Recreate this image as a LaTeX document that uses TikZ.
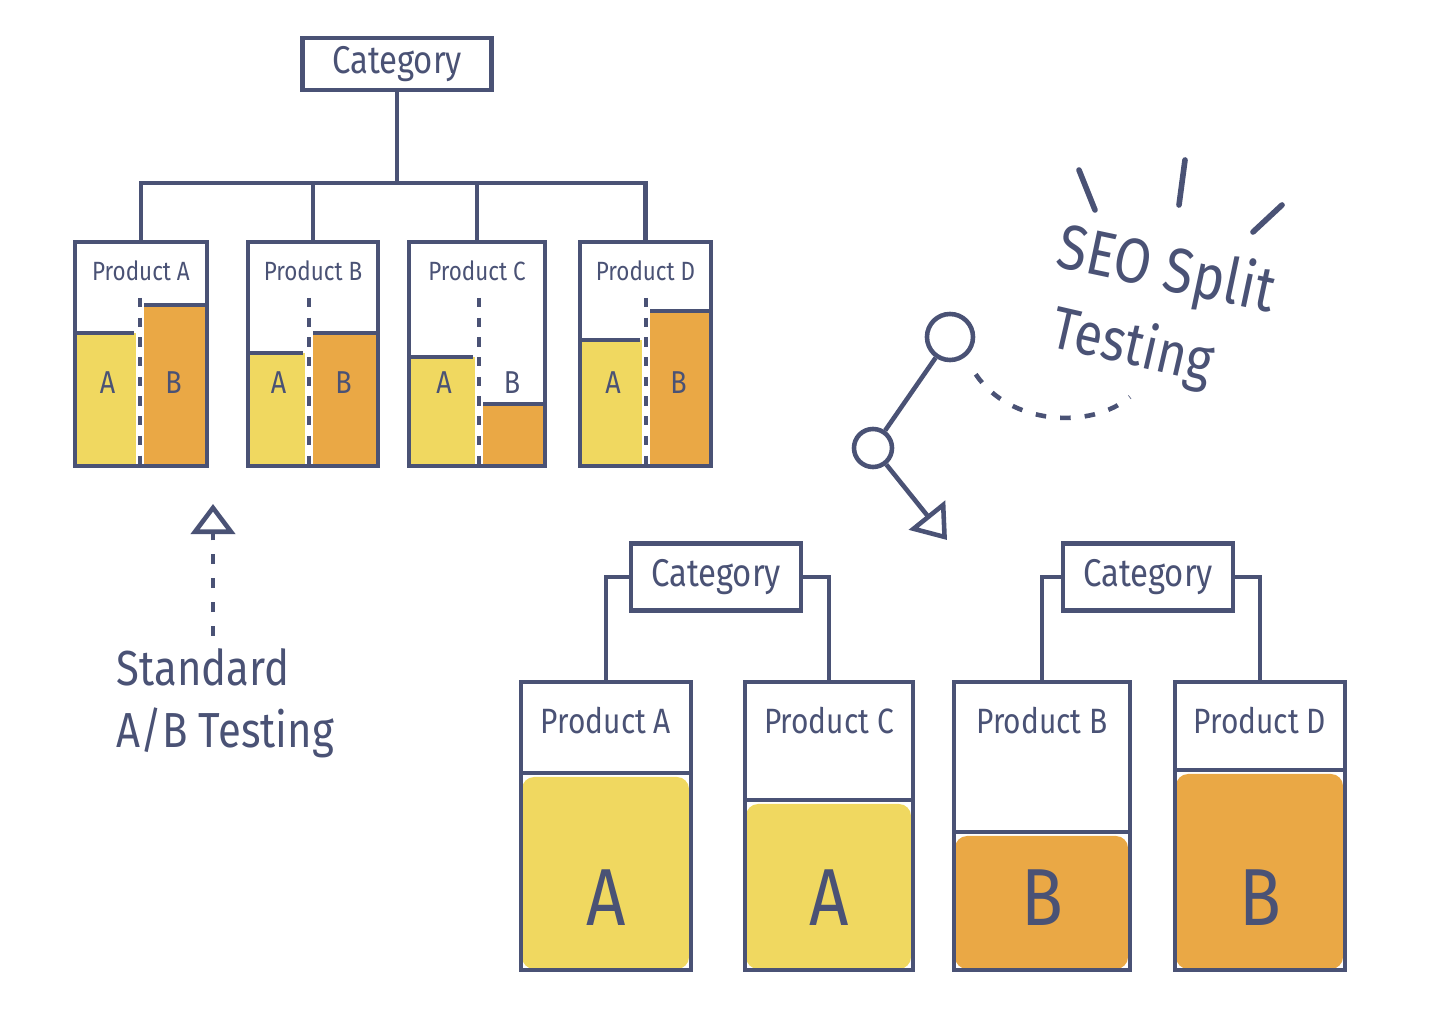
\documentclass[tikz,border=0pt]{standalone}
\usepackage{fontspec}
\setmainfont{Fira Sans}[FakeStretch=0.85]
\usetikzlibrary{arrows.meta,backgrounds,fit,positioning}
\definecolor{ink}{RGB}{74,82,117}
\definecolor{yel}{RGB}{240,216,96}
\definecolor{org}{RGB}{234,168,69}
\tikzset{
  line/.style={draw=ink, line width=1.3pt},
  catbox/.style={draw=ink, line width=1.3pt, text=ink, inner sep=0pt, font=\fontsize{11}{13}\selectfont},
  prodbox/.style={draw=ink, line width=1.3pt, inner sep=0pt},
  plabel/.style={text=ink, inner sep=1pt, font=\fontsize{7.5}{9}\selectfont},
  bigplabel/.style={text=ink, inner sep=1pt, font=\fontsize{10}{12}\selectfont},
  barlabel/.style={text=ink, font=\fontsize{9}{11}\selectfont},
  biglabel/.style={text=ink, font=\fontsize{23}{26}\selectfont},
  divider/.style={line, dash pattern=on 2.6pt off 3pt},
  ring/.style={circle, draw=ink, line width=1.3pt, inner sep=0pt},
  seotext/.style={text=ink, inner sep=0pt, font=\fontsize{18}{21}\selectfont},
  burst/.style={line, line width=1.6pt, line cap=round}
}
\begin{document}
\begin{tikzpicture}[x=0.01cm, y=-0.01cm]
\useasboundingbox (0,0) rectangle (1448,1034);

% standard a/b test: one category, split bars
\node[catbox, minimum width=1.89cm, minimum height=0.52cm] (cat) at (397,64) {Category};
\coordinate (bus) at (397,183);
\foreach \n/\l/\r/\d/\ya/\yb in {A/75/207/140/333/305, B/248/378/309/353/333,
    C/409/545/479/357/404, D/580/711/646/340/311}{
  \begin{scope}[on background layer]
    \fill[yel] (\l,\ya) rectangle (\d-4,466);
    \fill[org] (\d+4,\yb) rectangle (\r,466);
  \end{scope}
  \draw[line] (\l,\ya) -- (\d-6,\ya);
  \draw[line] (\d+4,\yb) -- (\r,\yb);
  \node[prodbox, fit={(\l,242) (\r,466)}] (p\n) {};
  \node[plabel, below=0.17cm of p\n.north] (l\n) {Product \n};
  \draw[divider] (\d,298) -- (\d,464);
  \node[barlabel] (a\n) at ({(\l+\d)/2},383) {A};
  \node[barlabel] (b\n) at ({(\d+\r)/2},383) {B};
}
\draw[line] (cat.south) -- (bus);
\draw[line] (pA.north) |- (bus) -| (pD.north);
\draw[line] (pB.north) -- (pB.north |- bus);
\draw[line] (pC.north) -- (pC.north |- bus);

\node[text=ink, align=left, anchor=north west, inner sep=0pt,
  font=\fontsize{14}{17.6}\selectfont] (ab) at (116,648) {Standard\\A/B Testing};
\coordinate (abtip) at (213,494);
\draw[line, dash pattern=on 2.8pt off 4pt,
  -{Triangle[open, length=0.3cm, width=0.44cm, sep=0.1cm]}]
  ([yshift=0.12cm]ab.north -| abtip) -- (abtip);

% seo split test: categories split by variant
\node[seotext, rotate=-12] (seo) at (1166,272) {SEO Split};
\node[seotext, rotate=-13, font=\fontsize{17}{20}\selectfont] (tst) at (1132,348) {Testing};
\draw[burst] (1079,170) -- (1095,210);
\draw[burst] (1185,160) -- (1179,205);
\draw[burst] (1282,205) -- (1253,232);
\node[ring, minimum size=0.46cm] (c1) at (950,337) {};
\node[ring, minimum size=0.38cm] (c2) at (873,448) {};
\coordinate (seotip) at (947,540);
\coordinate (dashend) at (1130,397);
\draw[line] (c1) -- (c2);
\draw[line, -{Triangle[open, length=0.32cm, width=0.46cm]}] (c2) -- (seotip);
\draw[line, dash pattern=on 3pt off 4pt, shorten <=0.2cm]
  (c1.-55) .. controls (1010,425) and (1090,430) .. (dashend);

\node[catbox, minimum width=1.70cm, minimum height=0.67cm] (catL) at (716,577) {Category};
\node[catbox, minimum width=1.70cm, minimum height=0.67cm] (catR) at (1148,577) {Category};
\foreach \n/\l/\r/\y/\c/\v in {A/521/691/773/yel/A, C/745/913/800/yel/A,
    B/954/1130/832/org/B, D/1175/1345/770/org/B}{
  \begin{scope}[on background layer]
    \fill[\c, rounded corners=0.12cm] (\l+1,\y+4) rectangle (\r-2,969);
  \end{scope}
  \node[prodbox, fit={(\l,682) (\r,970)}] (q\n) {};
  \draw[line] (\l,\y) -- (\r,\y);
  \node[bigplabel, below=0.23cm of q\n.north] (m\n) {Product \n};
  \node[biglabel] (v\n) at ({(\l+\r)/2},898) {\v};
}
\draw[line] (catL.west) -| (qA.north);
\draw[line] (catL.east) -| (qC.north);
\draw[line] (catR.west) -| (qB.north);
\draw[line] (catR.east) -| (qD.north);
\end{tikzpicture}
\end{document}
